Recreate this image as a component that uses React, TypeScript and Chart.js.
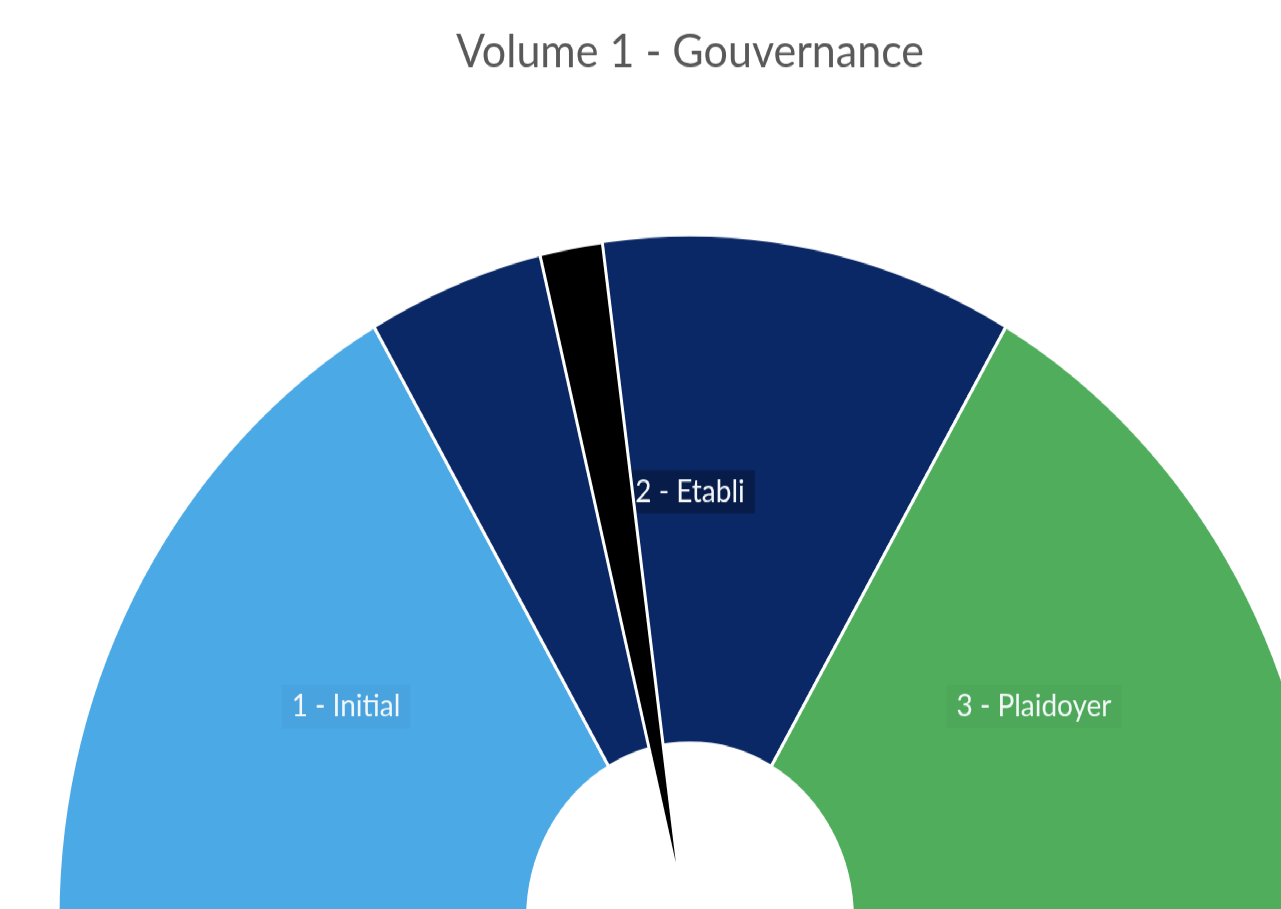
import React, { useEffect, useRef } from "react";
import { Chart, registerables } from "chart.js";

Chart.register(...registerables);

// ---- data ----
const titleText = "Volume 1 - Gouvernance";
const categories = ["1 - Initial", "2 - Etabli", "3 - Plaidoyer"];
const segmentValues = [1, 1, 1]; // three equal levels on the half gauge
const hiddenHalfValue = 3; // invisible lower half
const segmentColors = ["#4BA9E6", "#0A2866", "#4FAD5B"];
const labelBoxes = ["rgba(0,0,0,0.03)", "rgba(0,0,0,0.28)", "rgba(0,0,0,0.02)"];
// needle (pie overlay), degrees
const needleValues = [6.0, 354.0];
const needleRotation = -13.46;

const SY = 1.082; // vertical stretch of the original picture

const labelPlugin = {
  id: "segLabels",
  afterDatasetsDraw(chart: any) {
    const meta = chart.getDatasetMeta(0);
    const ctx = chart.ctx;
    ctx.save();
    ctx.font = "28px Lato";
    ctx.textAlign = "center";
    ctx.textBaseline = "middle";
    categories.forEach((lab, i) => {
      const arc = meta.data[i];
      if (!arc) return;
      const p = arc.tooltipPosition();
      const y = p.y + 2.5;
      const w = ctx.measureText(lab).width;
      ctx.fillStyle = labelBoxes[i];
      ctx.fillRect(p.x - w / 2 - 10, y - 20, w + 20, 40);
      ctx.fillStyle = "#F4F7FA";
      ctx.fillText(lab, p.x, y);
    });
    ctx.restore();
  },
};

export default function App() {
  const gaugeRef = useRef<HTMLCanvasElement>(null);
  const needleRef = useRef<HTMLCanvasElement>(null);

  useEffect(() => {
    const g = new Chart(gaugeRef.current!, {
      type: "doughnut",
      data: {
        labels: [...categories, ""],
        datasets: [
          {
            data: [...segmentValues, hiddenHalfValue],
            backgroundColor: [...segmentColors, "rgba(0,0,0,0)"],
            borderColor: "#FFFFFF",
            borderWidth: [3, 3, 3, 0],
          },
        ],
      },
      options: {
        responsive: false,
        animation: false,
        events: [],
        rotation: -90,
        radius: 632,
        cutout: 162,
        layout: { padding: { left: 58, right: 0, top: 0, bottom: 0 } },
        plugins: {
          legend: { display: false },
          tooltip: { enabled: false },
          title: {
            display: true,
            text: titleText,
            color: "#595959",
            font: { family: "Lato", size: 43, weight: "normal" as any },
            padding: { top: 22, bottom: 144 },
          },
        },
      },
      plugins: [labelPlugin],
    });
    const n = new Chart(needleRef.current!, {
      type: "pie",
      data: {
        labels: ["needle", ""],
        datasets: [
          {
            data: needleValues,
            backgroundColor: ["#000000", "rgba(0,0,0,0)"],
            borderColor: "#FFFFFF",
            borderWidth: [3, 0],
          },
        ],
      },
      options: {
        responsive: false,
        animation: false,
        events: [],
        rotation: needleRotation,
        radius: 606,
        layout: { padding: 0 },
        plugins: { legend: { display: false }, tooltip: { enabled: false } },
      },
    });
    return () => {
      g.destroy();
      n.destroy();
    };
  }, []);

  return (
    <div
      style={{
        position: "fixed",
        left: 0,
        top: 0,
        width: 1281,
        height: 909,
        overflow: "hidden",
        background: "#FFFFFF",
      }}
    >
      <div
        style={{
          position: "absolute",
          left: 0,
          top: 0,
          width: 1400,
          height: 1600,
          transform: `scale(1, ${SY})`,
          transformOrigin: "0 0",
        }}
      >
        <canvas
          ref={gaugeRef}
          width={1322}
          height={1481}
          style={{ position: "absolute", left: 0, top: 0 }}
        />
        <canvas
          ref={needleRef}
          width={1212}
          height={1212}
          style={{ position: "absolute", left: 75, top: 219 }}
        />
      </div>
    </div>
  );
}
